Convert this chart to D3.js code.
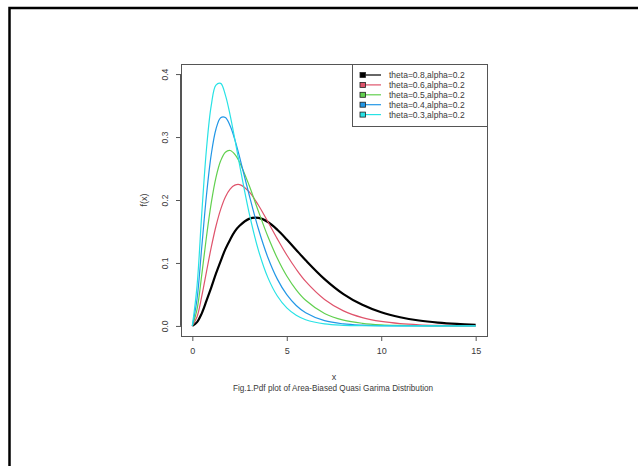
<!DOCTYPE html>
<html>
<head>
<meta charset="utf-8">
<script src="https://cdn.jsdelivr.net/npm/d3@7"></script>
<style>
  html, body { margin: 0; padding: 0; background: #fff; }
  svg { display: block; }
  text { font-family: "Liberation Sans", Arial, sans-serif; fill: #3a3a3a; }
</style>
</head>
<body>
<svg id="chart" width="638" height="466"></svg>
<script>
// ---- data ----
const xValues = [0,0.25,0.5,0.75,1,1.25,1.5,1.75,2,2.25,2.5,3,3.5,4,4.5,5,5.5,6,7,8,9,10,11,12,13,14,15];
const seriesTheta08 = [0,0.006,0.020,0.040,0.061,0.083,0.103,0.122,0.137,0.150,0.159,0.170,0.1715,0.165,0.1527,0.1373,0.1207,0.1043,0.0744,0.0506,0.0335,0.0216,0.0138,0.0086,0.0053,0.0032,0.0019];
const seriesTheta06 = [0,0.0145,0.0472,0.0863,0.1246,0.1583,0.1852,0.2049,0.2174,0.2236,0.2244,0.2133,0.1917,0.1654,0.1382,0.1126,0.0900,0.0707,0.0420,0.0239,0.0132,0.0071,0.0037,0.0019,0.0010,0.0005,0.0002];
const seriesTheta05 = [0,0.0264,0.0816,0.1420,0.1951,0.2356,0.2622,0.2759,0.2786,0.2725,0.2601,0.2238,0.1820,0.1420,0.1074,0.0792,0.0573,0.0407,0.0198,0.0092,0.0042,0.0018,0.0008,0.0003,0.0001,0,0];
const seriesTheta04 = [0,0.0428,0.1257,0.2080,0.2720,0.3124,0.3308,0.3311,0.3179,0.2959,0.2686,0.2091,0.1539,0.1087,0.0743,0.0496,0.0325,0.0209,0.0083,0.0032,0.0012,0.0004,0.0001,0,0,0,0];
const seriesTheta03 = [0,0.0639,0.1788,0.2814,0.3499,0.3824,0.3852,0.3666,0.3349,0.2965,0.2560,0.1803,0.1201,0.0767,0.0475,0.0287,0.0170,0.0099,0.0032,0.0010,0.0003,0.0001,0,0,0,0,0];
const legendLabels = ["theta=0.8,alpha=0.2","theta=0.6,alpha=0.2","theta=0.5,alpha=0.2","theta=0.4,alpha=0.2","theta=0.3,alpha=0.2"];
const seriesColors = ["#000000","#DF536B","#61D04F","#2297E6","#28E2E5"];
const seriesWidths = [2.2, 1.2, 1.2, 1.2, 1.2];
const xTicks = [0,5,10,15];
const yTicks = [0,0.1,0.2,0.3,0.4];
const xLabel = "x";
const yLabel = "f(x)";
const caption = "Fig.1.Pdf plot of Area-Biased Quasi Garima Distribution";

const allSeries = [seriesTheta08, seriesTheta06, seriesTheta05, seriesTheta04, seriesTheta03];

// ---- layout ----
const svg = d3.select("#chart");
const box = {left: 181, right: 487, top: 64, bottom: 336};

// outer frame (top and left lines)
svg.append("path")
  .attr("d", "M9.5,466 V8 H638")
  .attr("fill", "none").attr("stroke", "#000").attr("stroke-width", 2.5);

const x = d3.scaleLinear().domain([-0.6, 15.6]).range([box.left, box.right]);
const y = d3.scaleLinear().domain([-0.016, 0.416]).range([box.bottom, box.top]);

const axisColor = "#555";

// x axis
const gx = svg.append("g").attr("transform", `translate(0,${box.bottom})`)
  .call(d3.axisBottom(x).tickValues(xTicks).tickFormat(d3.format("d")).tickSize(5).tickSizeOuter(0).tickPadding(7));
gx.select(".domain").remove();
gx.append("line").attr("x1", x(xTicks[0])).attr("x2", x(xTicks[xTicks.length-1])).attr("y1", 0.5).attr("y2", 0.5).attr("stroke", axisColor);
gx.selectAll(".tick line").attr("stroke", axisColor);
gx.selectAll(".tick text").attr("font-size", 9).attr("fill", "#444").style("font-family", "Liberation Sans, Arial, sans-serif");

// y axis
const gy = svg.append("g").attr("transform", `translate(${box.left},0)`)
  .call(d3.axisLeft(y).tickValues(yTicks).tickFormat(d3.format(".1f")).tickSize(5).tickSizeOuter(0));
gy.select(".domain").remove();
gy.append("line").attr("y1", y(yTicks[0])).attr("y2", y(yTicks[yTicks.length-1])).attr("x1", -0.5).attr("x2", -0.5).attr("stroke", axisColor);
gy.selectAll(".tick line").attr("stroke", axisColor);
gy.selectAll(".tick text")
  .attr("font-size", 8.5).attr("fill", "#444").style("font-family", "Liberation Sans, Arial, sans-serif")
  .attr("x", null).attr("dy", null)
  .attr("text-anchor", "middle")
  .attr("transform", "translate(-16,0) rotate(-90)")
  .attr("dy", "0.35em");

// curves
const line = d3.line()
  .x((d, i) => x(xValues[i]))
  .y(d => y(d))
  .curve(d3.curveCatmullRom.alpha(0.5));

svg.append("defs").append("clipPath").attr("id", "clip")
  .append("rect").attr("x", box.left).attr("y", box.top).attr("width", box.right - box.left).attr("height", box.bottom - box.top);

const gc = svg.append("g").attr("clip-path", "url(#clip)");
allSeries.forEach((s, k) => {
  gc.append("path").datum(s)
    .attr("d", line)
    .attr("fill", "none")
    .attr("stroke", seriesColors[k])
    .attr("stroke-width", seriesWidths[k])
    .attr("stroke-linejoin", "round");
});

// plot box
svg.append("rect")
  .attr("x", box.left + 0.5).attr("y", box.top + 0.5)
  .attr("width", box.right - box.left).attr("height", box.bottom - box.top)
  .attr("fill", "none").attr("stroke", axisColor);

// legend
const lg = {left: 352, top: 64, right: 487, bottom: 126};
svg.append("rect")
  .attr("x", lg.left + 0.5).attr("y", lg.top + 0.5)
  .attr("width", lg.right - lg.left).attr("height", lg.bottom - lg.top)
  .attr("fill", "#fff").attr("stroke", axisColor);
legendLabels.forEach((lab, i) => {
  const cy = 75 + i * 9.9;
  svg.append("line").attr("x1", 362).attr("x2", 381).attr("y1", cy).attr("y2", cy)
    .attr("stroke", seriesColors[i]).attr("stroke-width", 1.2);
  svg.append("rect").attr("x", 360).attr("y", cy - 2.5).attr("width", 5.5).attr("height", 5)
    .attr("fill", seriesColors[i]).attr("stroke", "#222").attr("stroke-width", 0.8);
  svg.append("text").attr("x", 389).attr("y", cy).attr("dy", "0.35em")
    .attr("font-size", 8.5).text(lab);
});

// axis titles
svg.append("text").attr("x", 334).attr("y", 377).attr("dy", "0.35em")
  .attr("text-anchor", "middle").attr("font-size", 9).text(xLabel);
svg.append("text").attr("transform", "translate(144,200) rotate(-90)").attr("dy", "0.35em")
  .attr("text-anchor", "middle").attr("font-size", 9).text(yLabel);

// caption
svg.append("text").attr("x", 333).attr("y", 388).attr("dy", "0.35em")
  .attr("text-anchor", "middle").attr("font-size", 8.2).text(caption);
</script>
</body>
</html>
